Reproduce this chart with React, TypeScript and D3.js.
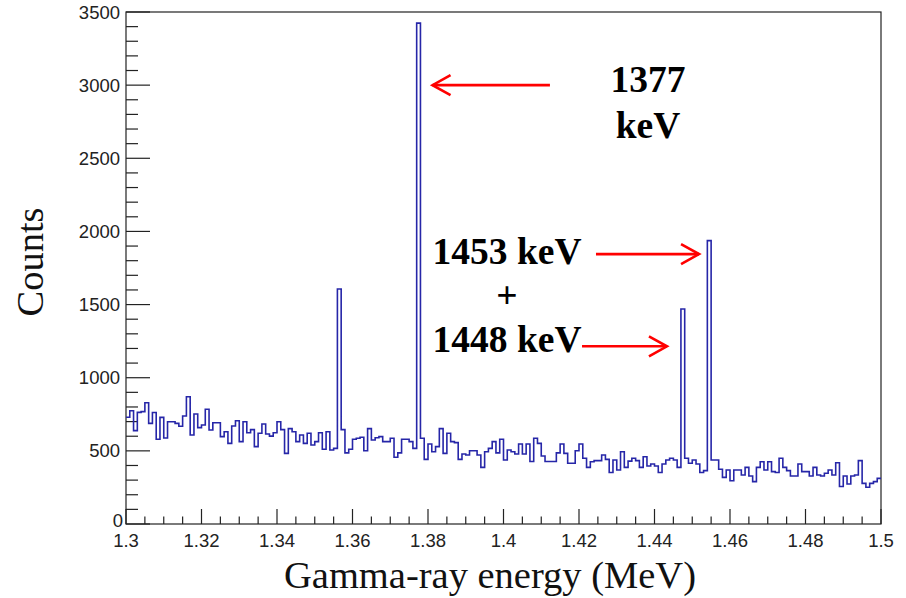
import * as d3 from "d3";
import { useEffect, useRef } from "react";

// histogram: 200 bins of 1 keV between 1.300 and 1.500 MeV
const energyMin = 1.3;
const energyMax = 1.5;
const binWidth = 0.001;

const counts = [
  730, 774, 638, 763, 768, 829, 688, 762, 579, 729, 588, 699, 699, 688, 668, 738, 870, 608, 752, 659,
  677, 784, 643, 692, 692, 597, 631, 551, 670, 706, 563, 699, 624, 645, 529, 620, 684, 615, 601, 624,
  699, 645, 483, 652, 631, 563, 608, 551, 620, 540, 563, 624, 511, 631, 506, 517, 1606, 645, 486, 511,
  579, 586, 593, 501, 652, 574, 590, 597, 563, 563, 586, 456, 486, 579, 579, 563, 517, 3424, 586, 442,
  547, 494, 529, 652, 483, 620, 563, 556, 442, 479, 472, 501, 501, 472, 387, 494, 517, 563, 486, 579,
  438, 506, 494, 479, 547, 479, 547, 427, 586, 551, 465, 427, 427, 427, 486, 547, 483, 415, 415, 501,
  547, 449, 387, 426, 433, 433, 472, 442, 352, 438, 369, 494, 387, 430, 449, 433, 387, 460, 396, 410,
  396, 352, 410, 438, 449, 438, 387, 1470, 449, 415, 438, 410, 352, 365, 1937, 438, 438, 374, 319, 369,
  296, 369, 369, 335, 387, 328, 290, 387, 426, 369, 426, 358, 352, 449, 387, 365, 328, 328, 410, 358,
  358, 328, 387, 335, 328, 347, 369, 335, 419, 256, 328, 273, 328, 335, 433, 278, 251, 278, 290, 312,
];

const xMajorTicks = [1.3, 1.32, 1.34, 1.36, 1.38, 1.4, 1.42, 1.44, 1.46, 1.48, 1.5];
const xTickLabels = ["1.3", "1.32", "1.34", "1.36", "1.38", "1.4", "1.42", "1.44", "1.46", "1.48", "1.5"];
const yMajorTicks = [0, 500, 1000, 1500, 2000, 2500, 3000, 3500];

// annotation arrows: tail -> tip, in (energy, counts)
const arrowTails = [[1.4123, 3000], [1.4245, 1845], [1.4208, 1215]];
const arrowTips = [[1.3812, 3000], [1.4518, 1845], [1.4433, 1215]];

const ChartDraw = () => {
  const chartRef = useRef(null);

  useEffect(() => {
    const svg = d3.select(chartRef.current);
    svg.selectAll("*").remove();

    const width = 906;
    const height = 598;
    const margin = { top: 12, right: 25, bottom: 74, left: 126 };
    const innerWidth = width - margin.left - margin.right;
    const innerHeight = height - margin.top - margin.bottom;

    const g = svg
      .append("g")
      .attr("transform", `translate(${margin.left},${margin.top})`);

    const x = d3.scaleLinear().domain([energyMin, energyMax]).range([0, innerWidth]);
    const y = d3.scaleLinear().domain([0, 3500]).range([innerHeight, 0]);

    const axisColor = "#222";
    const sans = "'Liberation Sans', Arial, sans-serif";
    const serif = "'Liberation Serif', 'Times New Roman', serif";

    // рамка
    g.append("rect")
      .attr("width", innerWidth)
      .attr("height", innerHeight)
      .attr("fill", "none")
      .attr("stroke", axisColor)
      .attr("stroke-width", 1.2);

    // X ticks (inward), minor every 0.005
    const xMinor = d3.range(0, 41).map(i => energyMin + i * 0.005);
    g.selectAll(".xtick")
      .data(xMinor)
      .enter()
      .append("line")
      .attr("x1", d => x(d))
      .attr("x2", d => x(d))
      .attr("y1", innerHeight)
      .attr("y2", (d, i) => innerHeight - (i % 4 === 0 ? 15 : 7.5))
      .attr("stroke", axisColor)
      .attr("stroke-width", 1.2);

    g.selectAll(".xlabel")
      .data(xMajorTicks)
      .enter()
      .append("text")
      .attr("x", d => x(d))
      .attr("y", innerHeight + 23)
      .attr("text-anchor", "middle")
      .style("font-family", sans)
      .style("font-size", "18.5px")
      .attr("fill", axisColor)
      .text((d, i) => xTickLabels[i]);

    // Y ticks, minor every 100
    const yMinor = d3.range(0, 36).map(i => i * 100);
    g.selectAll(".ytick")
      .data(yMinor)
      .enter()
      .append("line")
      .attr("x1", 0)
      .attr("x2", (d, i) => (i % 5 === 0 ? 24 : 12))
      .attr("y1", d => y(d))
      .attr("y2", d => y(d))
      .attr("stroke", axisColor)
      .attr("stroke-width", 1.2);

    g.selectAll(".ylabel")
      .data(yMajorTicks)
      .enter()
      .append("text")
      .attr("x", d => (d === 0 ? -3 : -6))
      .attr("y", d => (d === 0 ? y(d) + 3 : y(d) + 6.5))
      .attr("text-anchor", "end")
      .style("font-family", sans)
      .style("font-size", "18.5px")
      .attr("fill", axisColor)
      .text(d => d);

    // Гистограмма
    const points = counts.map((c, i) => [energyMin + i * binWidth, c]);
    points.push([energyMax, counts[counts.length - 1]]);
    const line = d3.line()
      .x(d => x(d[0]))
      .y(d => y(d[1]))
      .curve(d3.curveStepAfter);

    g.append("path")
      .datum(points)
      .attr("d", line)
      .attr("fill", "none")
      .attr("stroke", "#2626a8")
      .attr("stroke-width", 1.6);

    // стрелки
    arrowTails.forEach((tail, i) => {
      const tip = arrowTips[i];
      const x1 = x(tail[0]);
      const x2 = x(tip[0]);
      const yy = y(tip[1]);
      const dir = x2 > x1 ? -1 : 1;
      g.append("line")
        .attr("x1", x1)
        .attr("x2", x2)
        .attr("y1", yy)
        .attr("y2", yy)
        .attr("stroke", "#ff0000")
        .attr("stroke-width", 2.6);
      g.append("path")
        .attr("d", `M${x2 + dir * 18},${yy - 10}L${x2},${yy}L${x2 + dir * 18},${yy + 10}`)
        .attr("fill", "none")
        .attr("stroke", "#ff0000")
        .attr("stroke-width", 2.6);
    });

    // подписи
    const notes = [
      { text: "1377", x: 648 - margin.left, y: 92 - margin.top },
      { text: "keV", x: 648 - margin.left, y: 138 - margin.top },
      { text: "1453 keV", x: 507 - margin.left, y: 264 - margin.top },
      { text: "+", x: 507 - margin.left, y: 308 - margin.top },
      { text: "1448 keV", x: 507 - margin.left, y: 352 - margin.top },
    ];
    g.selectAll(".note")
      .data(notes)
      .enter()
      .append("text")
      .attr("x", d => d.x)
      .attr("y", d => d.y)
      .attr("text-anchor", "middle")
      .style("font-family", serif)
      .style("font-weight", "bold")
      .style("font-size", "37.5px")
      .attr("fill", "#000")
      .text(d => d.text);

    // Заголовки осей
    svg.append("text")
      .attr("x", 490)
      .attr("y", 588)
      .attr("text-anchor", "middle")
      .style("font-family", serif)
      .style("font-size", "38.5px")
      .attr("fill", "#111")
      .text("Gamma-ray energy (MeV)");

    svg.append("text")
      .attr("transform", "translate(43,262) rotate(-90)")
      .attr("text-anchor", "middle")
      .style("font-family", serif)
      .style("font-size", "38.5px")
      .attr("fill", "#111")
      .text("Counts");
  }, []);

  return (
    <svg
      ref={chartRef}
      width="906"
      height="598"
      style={{ position: "absolute", left: 0, top: 0, background: "#fff" }}
    ></svg>
  );
};

export default function App() {
  return <ChartDraw />;
}
